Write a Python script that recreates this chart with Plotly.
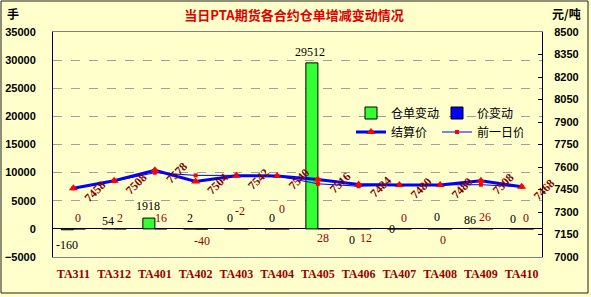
import plotly.graph_objects as go

# ---------------- data ----------------
categories = ["TA311", "TA312", "TA401", "TA402", "TA403", "TA404",
              "TA405", "TA406", "TA407", "TA408", "TA409", "TA410"]
warrant_change = [-160, 54, 1918, 2, 0, 0, 29512, 0, 0, 0, 86, 0]
price_change = [0, 2, 16, -40, -2, 0, 28, 12, 0, 0, 26, 0]
settle_price = [7458, 7508, 7578, 7504, 7542, 7540, 7516, 7484, 7480, 7480, 7508, 7468]
prev_price = [s - c for s, c in zip(settle_price, price_change)]

# label offsets (pixels) for data labels
warrant_label_shift = [(-6, -15), (-6, 8), (-7, 12), (-6, 11), (-6, 11), (-5, 11),
                       (-8, 11), (-7, -11), (-7, 0), (-3, 12), (-11, 8), (-9, 10)]
price_label_shift = [(5, 11), (6, 11), (6, 11), (6, -12), (4, 18), (5, 20),
                     (5, -9), (7, -9), (5, 11), (3, -11), (4, 12), (4, 11)]

W, H = 591, 297
ML, MR, MT, MB = 53, 49, 32, 40
PW, PH = W - ML - MR, H - MT - MB


def px_x(p):
    return (p - ML) / PW


def px_y(p):
    return (H - MB - p) / PH


BG = "#FFFFCC"
fig = go.Figure()

fig.add_trace(go.Bar(
    x=categories, y=warrant_change, name="仓单变动",
    marker=dict(color="#33FF33", line=dict(color="#000000", width=1)),
    yaxis="y", xaxis="x", legend="legend",
))
fig.add_trace(go.Bar(
    x=categories, y=price_change, name="价变动",
    marker=dict(color="#0000FF", line=dict(color="#000000", width=1)),
    yaxis="y", xaxis="x", legend="legend",
))
fig.add_trace(go.Scatter(
    x=categories, y=settle_price, name="结算价", mode="lines+markers",
    line=dict(color="#0000FF", width=3),
    marker=dict(symbol="triangle-up", color="#FF0000", size=8),
    yaxis="y2", xaxis="x", legend="legend2",
))
fig.add_trace(go.Scatter(
    x=categories, y=prev_price, name="前一日价", mode="lines+markers",
    line=dict(color="#0000FF", width=1),
    marker=dict(symbol="square", color="#FF0000", size=4),
    yaxis="y2", xaxis="x", legend="legend2",
))

ann = []
for c, v, (dx, dy) in zip(categories, warrant_change, warrant_label_shift):
    ann.append(dict(x=c, y=v, xref="x", yref="y", text=str(v), showarrow=False,
                    xshift=dx, yshift=dy,
                    font=dict(family="Liberation Serif", size=12, color="#000000")))
for c, v, (dx, dy) in zip(categories, price_change, price_label_shift):
    ann.append(dict(x=c, y=0, xref="x", yref="y", text=str(v), showarrow=False,
                    xshift=dx, yshift=dy,
                    font=dict(family="Liberation Serif", size=12, color="#990000")))
for c, v in zip(categories, settle_price):
    ann.append(dict(x=c, y=v, xref="x", yref="y2", text=str(v), showarrow=False,
                    xshift=22, yshift=-3, textangle=-45,
                    font=dict(family="Liberation Serif", size=12, color="#800000",
                              weight="bold")))

ann.append(dict(x=px_x(13), y=px_y(14), xref="paper", yref="paper", text="手",
                xanchor="center", yanchor="middle",
                showarrow=False, font=dict(family="Noto Sans CJK SC", size=12,
                                           color="#000000", weight="bold")))
ann.append(dict(x=px_x(566), y=px_y(14), xref="paper", yref="paper", text="元/吨",
                xanchor="center", yanchor="middle",
                showarrow=False, font=dict(family="Noto Sans CJK SC", size=12,
                                           color="#000000", weight="bold")))

legend_common = dict(orientation="h", xanchor="left", yanchor="middle",
                     bgcolor="rgba(0,0,0,0)", entrywidth=41, borderwidth=0,
                     font=dict(family="Noto Sans CJK SC", size=12, color="#000000"),
                     traceorder="normal", itemwidth=30, tracegroupgap=0)

fig.update_layout(
    width=W, height=H,
    margin=dict(l=ML, r=MR, t=MT, b=MB, pad=0, autoexpand=False),
    paper_bgcolor=BG, plot_bgcolor=BG,
    barmode="group", bargap=0.41, bargroupgap=0,
    title=dict(text="当日PTA期货各合约仓单增减变动情况", x=294 / W, xref="container",
               xanchor="center", y=1 - 15 / H, yanchor="middle", yref="container",
               font=dict(family="Noto Sans CJK SC", size=13, color="#E00000",
                         weight="bold")),
    showlegend=True,
    legend=dict(x=px_x(351), y=px_y(113), **legend_common),
    legend2=dict(x=px_x(351), y=px_y(132), **legend_common),
    xaxis=dict(type="category", range=[-0.5, 11.5], showgrid=False,
               showline=True, linecolor="#808080", linewidth=1, mirror=True,
               ticks="", ticklabelstandoff=6,
               tickfont=dict(family="Liberation Serif", size=12, color="#990000",
                             weight="bold")),
    xaxis2=dict(overlaying="x", anchor="free", position=5000 / 40000,
                range=[-0.5, 11.5], showgrid=False, showline=False,
                tickvals=[i + 0.5 for i in range(len(categories) - 1)],
                ticks="inside", ticklen=4, tickcolor="#000000",
                showticklabels=False, zeroline=False),
    yaxis=dict(range=[-5000, 35000], dtick=5000, tick0=0, tickformat="d",
               showgrid=True, gridcolor="#A0A0A0", griddash="dash", gridwidth=1,
               zeroline=True, zerolinecolor="#000000", zerolinewidth=1,
               showline=True, linecolor="#000000", linewidth=1,
               ticks="", ticklabelstandoff=14,
               tickfont=dict(family="Liberation Sans", size=11, color="#000000",
                             weight="bold")),
    yaxis2=dict(range=[7000, 8500], dtick=150, tick0=7000, tickformat="d",
                overlaying="y", side="right",
                showgrid=False, zeroline=False, showline=True,
                linecolor="#000000", linewidth=1, ticks="inside", ticklen=4,
                tickcolor="#000000", ticklabelstandoff=9,
                tickfont=dict(family="Liberation Sans", size=11, color="#000000",
                              weight="bold")),
    annotations=ann,
    shapes=[dict(type="rect", xref="paper", yref="paper",
                 x0=px_x(1), x1=px_x(588), y0=px_y(293), y1=px_y(1),
                 line=dict(color="#202020", width=1), layer="below")],
)

fig.write_html("out.html")
